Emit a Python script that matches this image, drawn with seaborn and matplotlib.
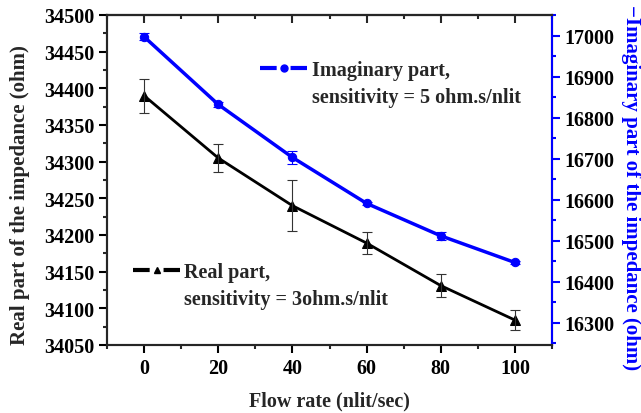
import matplotlib
matplotlib.use("Agg")
import matplotlib.pyplot as plt
from matplotlib.ticker import MultipleLocator
from matplotlib.lines import Line2D
from matplotlib.legend_handler import HandlerTuple
import seaborn as sns
import pandas as pd

flow = [0, 20, 40, 60, 80, 100]
real = [34390, 34305, 34240, 34189, 34131, 34084]
real_err = [23, 19, 35, 15, 16, 14]
imag = [16997, 16832, 16703, 16591, 16512, 16447]
imag_err = [8, 5, 15, 3, 9, 3]

real_label = ["Real part,", "sensitivity = 3ohm.s/nlit"]
imag_label = ["Imaginary part,", "sensitivity = 5 ohm.s/nlit"]

sns.set_theme(style="ticks")
plt.rcParams['font.family'] = ['Liberation Serif', 'DejaVu Serif']
plt.rcParams['font.weight'] = 'bold'
plt.rcParams['axes.labelweight'] = 'bold'
plt.rcParams['lines.scale_dashes'] = False

FS = 14.5
LFS = 15
BLUE = '#0000ff'

fig = plt.figure(figsize=(6.41, 4.14), dpi=100)
ax = fig.add_axes([107/641, 1-346/414, (552-107)/641, (346-16)/414])
ax2 = ax.twinx()

df_r = pd.DataFrame({"flow": flow, "val": real})
df_i = pd.DataFrame({"flow": flow, "val": imag})

sns.lineplot(data=df_r, x="flow", y="val", ax=ax, color='black', marker='^',
             markersize=7, linewidth=2, markeredgecolor='black', legend=False)
ax.errorbar(flow, real, yerr=real_err, fmt='none', ecolor='#333333',
            elinewidth=0.8, capsize=3.5, capthick=0.8)

sns.lineplot(data=df_i, x="flow", y="val", ax=ax2, color=BLUE, marker='o',
             markersize=6, linewidth=2.5, markeredgecolor=BLUE, legend=False)
ax2.errorbar(flow, imag, yerr=imag_err, fmt='none', ecolor=BLUE,
             elinewidth=0.8, capsize=3.5, capthick=0.8)

ax.set_xlim(-10, 110)
ax.set_ylim(34050, 34500)
ax2.set_ylim(16246, 17050)

ax.xaxis.set_major_locator(MultipleLocator(20))
ax.xaxis.set_minor_locator(MultipleLocator(10))
ax.yaxis.set_major_locator(MultipleLocator(50))
ax.yaxis.set_minor_locator(MultipleLocator(25))
ax2.yaxis.set_major_locator(MultipleLocator(100))
ax2.yaxis.set_minor_locator(MultipleLocator(50))

for a in (ax, ax2):
    for s in a.spines.values():
        s.set_linewidth(1.5)
        s.set_visible(True)
ax2.spines['right'].set_color(BLUE)

ax.tick_params(axis='both', which='major', direction='out', length=6, width=1.5,
               labelsize=FS, pad=3, colors='black')
ax.tick_params(axis='both', which='minor', direction='out', length=3, width=1.5)
ax2.tick_params(axis='y', which='major', direction='out', length=6, width=1.5,
                labelsize=FS, pad=3, color=BLUE, labelcolor='black')
ax2.tick_params(axis='y', which='minor', direction='out', length=3, width=1.5, color=BLUE)

sec = ax.secondary_xaxis('top')
sec.xaxis.set_major_locator(MultipleLocator(20))
sec.xaxis.set_minor_locator(MultipleLocator(10))
sec.tick_params(which='major', direction='in', length=6, width=1.5, labeltop=False)
sec.tick_params(which='minor', direction='in', length=3, width=1.5)
sec.spines['top'].set_linewidth(1.5)

for lab in ax.get_xticklabels() + ax.get_yticklabels() + ax2.get_yticklabels():
    lab.set_fontweight('bold')

ax.set_xlabel("Flow rate (nlit/sec)", fontsize=FS, fontweight='bold')
ax.xaxis.set_label_coords(0.5, -(391-346)/330)
ax.set_ylabel("")
ax2.set_ylabel("")
fig.text(20/641, 1-195/414, "Real part of the impedance (ohm)", fontsize=LFS,
         fontweight='bold', rotation=90, ha='center', va='center')
fig.text(631/641, 1-188/414, "\u2212Imaginary part of the impedance (ohm)", fontsize=LFS,
         fontweight='bold', rotation=270, ha='center', va='center', color=BLUE)

# Origin-style legend handles: dash, marker, dash
def make_handle(color, marker, lw):
    ln = Line2D([], [], color=color, linewidth=lw, linestyle=(0, (12, 10, 12, 10)))
    mk = Line2D([], [], color=color, marker=marker, markersize=5, linestyle='none')
    return (ln, mk)

blank = Line2D([], [], color='none')
hl = 34 / FS

leg_r = ax.legend([make_handle('black', '^', 3), blank], real_label,
                  handler_map={tuple: HandlerTuple(ndivide=1)},
                  loc='upper left', bbox_to_anchor=(133/641, 1-263/414),
                  bbox_transform=fig.transFigure, frameon=False,
                  prop={'weight': 'bold', 'size': FS}, handlelength=hl,
                  handletextpad=0.2, borderpad=0, borderaxespad=0, labelspacing=0.35)
leg_i = ax2.legend([make_handle(BLUE, 'o', 3), blank], imag_label,
                   handler_map={tuple: HandlerTuple(ndivide=1)},
                   loc='upper left', bbox_to_anchor=(260/641, 1-61/414),
                   bbox_transform=fig.transFigure, frameon=False,
                   prop={'weight': 'bold', 'size': FS}, handlelength=hl,
                   handletextpad=0.25, borderpad=0, borderaxespad=0, labelspacing=0.35)

fig.savefig("out.png", dpi=100)
